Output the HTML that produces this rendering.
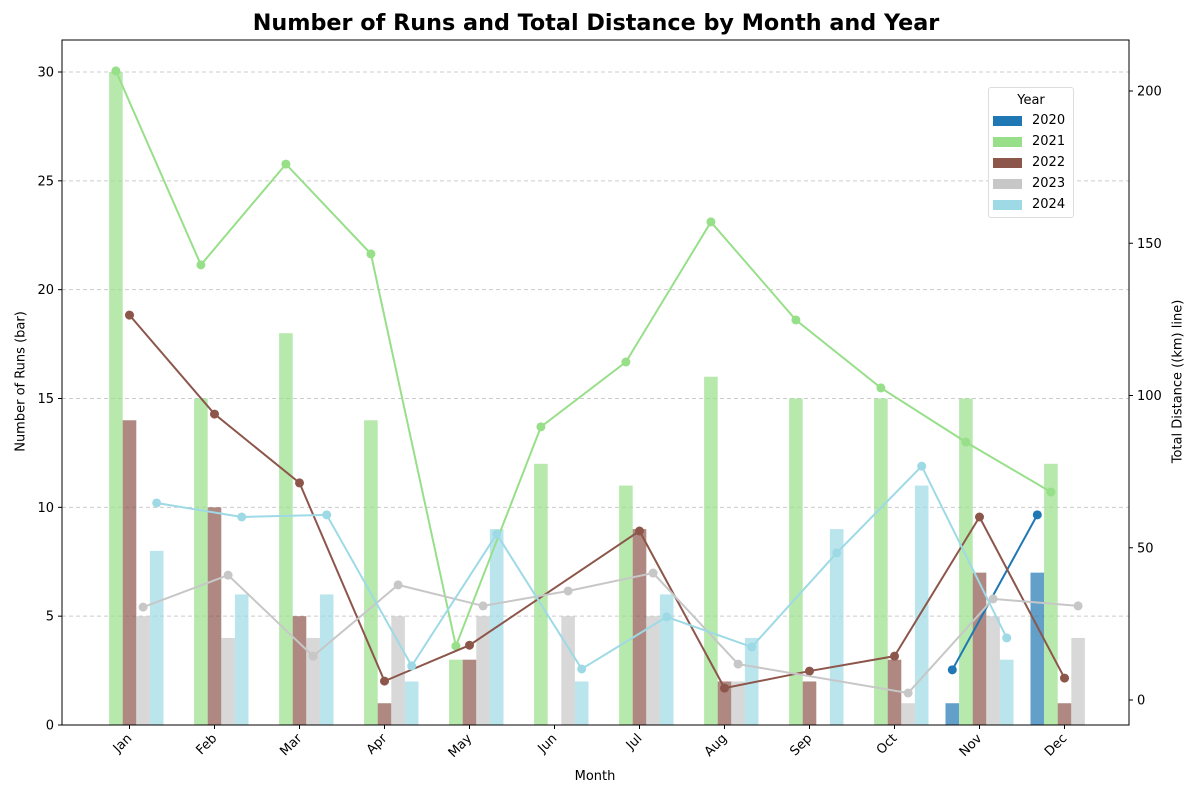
<!DOCTYPE html>
<html><head><meta charset="utf-8"><style>
html,body{margin:0;padding:0;width:1200px;height:800px;overflow:hidden;background:#fff;font-family:"Liberation Sans","DejaVu Sans",sans-serif;}
svg{display:block;}
svg text{font-family:"DejaVu Sans","Liberation Sans",sans-serif;}
</style></head><body>
<svg id="chart" width="1200" height="800"></svg>
<script>
const months=["Jan","Feb","Mar","Apr","May","Jun","Jul","Aug","Sep","Oct","Nov","Dec"];
const years=["2020","2021","2022","2023","2024"];
const colors=["#1f77b4","#98df8a","#8c564b","#c7c7c7","#9edae5"];
const runs2020=[null,null,null,null,null,null,null,null,null,null,1,7];
const runs2021=[30,15,18,14,3,12,11,16,15,15,15,12];
const runs2022=[14,10,5,1,3,null,9,2,2,3,7,1];
const runs2023=[5,4,4,5,5,5,5,2,null,1,5,4];
const runs2024=[8,6,6,2,9,2,6,4,9,11,3,null];
const dist2020=[null,null,null,null,null,null,null,null,null,null,9.9,60.8];
const dist2021=[206.6,142.9,176,146.5,17.7,89.7,111,157,124.8,102.5,84.7,68.3];
const dist2022=[126.4,93.9,71.3,6.2,18,null,55.5,3.9,9.5,14.4,60.1,7.2];
const dist2023=[30.5,41,14.4,37.8,30.9,35.8,41.7,11.8,null,2.3,33.2,30.9];
const dist2024=[64.7,60.1,60.8,11.2,54.5,10.2,27.3,17.4,48.3,76.8,20.4,null];
const leftTicks=[0,5,10,15,20,25,30];
const rightTicks=[0,50,100,150,200];
const runs=[runs2020,runs2021,runs2022,runs2023,runs2024];
const dists=[dist2020,dist2021,dist2022,dist2023,dist2024];

const L=62,R=1129,T=40,B=725;
const yL=v=>725-v*(653/30);
const yR=v=>700-v*(609/200);
const xM=i=>129.5+i*85;
const bw=13.6;
const off=k=>(k-2)*bw;
const NS="http://www.w3.org/2000/svg";
const svg=document.getElementById('chart');
function el(t,a,p){const e=document.createElementNS(NS,t);for(const k in a)e.setAttribute(k,a[k]);(p||svg).appendChild(e);return e;}
function tx(x,y,s,a){const e=el('text',Object.assign({x:x,y:y,'font-size':13,fill:'#000'},a||{}));e.textContent=s;return e;}

leftTicks.forEach(v=>{if(v===0)return;const g=el('line',{x1:L,x2:R,y1:yL(v),y2:yL(v),stroke:'#ccc','stroke-dasharray':'4,3','stroke-width':1});

});
runs.forEach((arr,k)=>arr.forEach((v,i)=>{if(v==null||v===0)return;
const r=el('rect',{x:xM(i)+off(k)-bw/2,y:yL(v),width:bw,height:yL(0)-yL(v),fill:colors[k],'fill-opacity':0.7});

}));
dists.forEach((arr,k)=>{const pts=[];arr.forEach((v,i)=>{if(v!=null)pts.push([xM(i)+off(k),yR(v)]);});
const p=el('polyline',{points:pts.map(q=>q.join(',')).join(' '),fill:'none',stroke:colors[k],'stroke-width':2});


pts.forEach(q=>{const c=el('circle',{cx:q[0],cy:q[1],r:4.5,fill:colors[k]});

});});
const fr=el('rect',{x:L,y:T,width:R-L,height:B-T,fill:'none',stroke:'#000','stroke-width':1});


leftTicks.forEach(v=>{el('line',{x1:L-4,x2:L,y1:yL(v),y2:yL(v),stroke:'#000'});
const t=tx(L-8,yL(v)+4.5,String(v),{'text-anchor':'end'});

});
rightTicks.forEach(v=>{el('line',{x1:R,x2:R+4,y1:yR(v),y2:yR(v),stroke:'#000'});
const t=tx(R+8,yR(v)+4.5,String(v));

});
months.forEach((m,i)=>{el('line',{x1:xM(i),x2:xM(i),y1:B,y2:B+4,stroke:'#000'});
const t=tx(0,0,m,{'text-anchor':'end',transform:`translate(${xM(i)+3},${B+14}) rotate(-45)`});

});
</script>
<div style="position:absolute;left:0;top:0;width:1200px;height:800px;pointer-events:none">
<div style="position:absolute;left:0;width:1192px;top:10px;text-align:center;font:bold 22.3px 'DejaVu Sans','Liberation Sans',sans-serif">Number of Runs and Total Distance by Month and Year</div>
<div style="position:absolute;left:0;width:1190px;top:769px;text-align:center;font:13px 'DejaVu Sans',sans-serif">Month</div>
<div style="position:absolute;left:-64px;top:374px;width:170px;text-align:center;transform:rotate(-90deg);font:13px 'DejaVu Sans',sans-serif">Number of Runs (bar)</div>
<div style="position:absolute;left:1078px;top:374px;width:200px;text-align:center;transform:rotate(-90deg);font:13px 'DejaVu Sans',sans-serif">Total Distance ((km) line)</div>
<div style="position:absolute;left:988px;top:87px;width:84px;height:129px;border:1px solid #ddd;border-radius:3px;background:#fff;font:13px 'DejaVu Sans',sans-serif">
<div style="text-align:center;margin-top:5px">Year</div>
<div style="position:absolute;left:4px;top:25px"><span style="display:inline-block;width:29px;height:10px;background:#1f77b4;vertical-align:middle"></span><span style="margin-left:10px;vertical-align:middle">2020</span></div>
<div style="position:absolute;left:4px;top:46px"><span style="display:inline-block;width:29px;height:10px;background:#98df8a;vertical-align:middle"></span><span style="margin-left:10px;vertical-align:middle">2021</span></div>
<div style="position:absolute;left:4px;top:67px"><span style="display:inline-block;width:29px;height:10px;background:#8c564b;vertical-align:middle"></span><span style="margin-left:10px;vertical-align:middle">2022</span></div>
<div style="position:absolute;left:4px;top:88px"><span style="display:inline-block;width:29px;height:10px;background:#c7c7c7;vertical-align:middle"></span><span style="margin-left:10px;vertical-align:middle">2023</span></div>
<div style="position:absolute;left:4px;top:109px"><span style="display:inline-block;width:29px;height:10px;background:#9edae5;vertical-align:middle"></span><span style="margin-left:10px;vertical-align:middle">2024</span></div>
</div>
</div>
</body></html>
